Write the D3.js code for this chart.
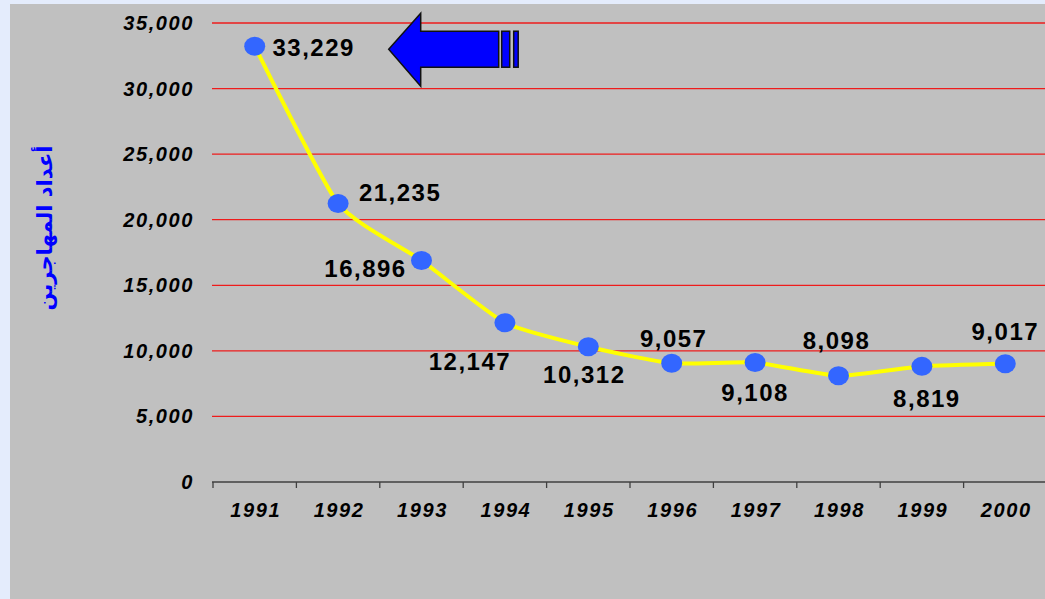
<!DOCTYPE html>
<html>
<head>
<meta charset="utf-8">
<script src="https://cdn.jsdelivr.net/npm/d3@7"></script>
<style>
  html, body { margin: 0; padding: 0; background: #e4ecfc; }
  svg { display: block; }
  .tick-label { font-family: "Liberation Sans", Arial, sans-serif; font-weight: bold; font-style: italic; font-size: 20px; letter-spacing: 1.6px; fill: #000; }
  .val-label { font-family: "Liberation Sans", Arial, sans-serif; font-weight: bold; font-size: 24px; letter-spacing: 1.5px; fill: #000; }
  .y-title { font-family: "DejaVu Sans", "Noto Sans", sans-serif; font-weight: bold; font-size: 21px; fill: #0000ff; }
</style>
</head>
<body>
<svg id="chart" width="1045" height="599"></svg>
<script>
 // data
 const years = ['1991', '1992', '1993', '1994', '1995', '1996', '1997', '1998', '1999', '2000'];
 const migrants = [33229, 21235, 16896, 12147, 10312, 9057, 9108, 8098, 8819, 9017];
 const yTicks = [0, 5000, 10000, 15000, 20000, 25000, 30000, 35000];
 const yTitle = 'أعداد المهاجرين';

 // label nudges [dx, dy] from each point (text centre)
 const labelOffsets = [
   [59, 1], [62, -12], [-56, 8], [-35, 38], [-4, 27],
   [2, -25], [0, 29], [-2, -36], [5, 32], [0, -33]
 ];

 const svg = d3.select('#chart');
 const W = 1045, H = 599;

 // grey plot panel
 svg.append('rect')
    .attr('x', 10).attr('y', 4)
    .attr('width', W - 10).attr('height', H - 4)
    .attr('fill', '#c0c0c0');

 const x = d3.scaleBand().domain(years).range([213, 1047]).padding(0);
 const y = d3.scaleLinear().domain([0, 35000]).range([482, 23]);
 const cx = d => x(d) + x.bandwidth() / 2;

 // grid lines
 svg.append('g')
    .selectAll('line')
    .data(yTicks.filter(t => t > 0))
    .join('line')
    .attr('x1', 212).attr('x2', W)
    .attr('y1', d => y(d)).attr('y2', d => y(d))
    .attr('stroke', '#ee1c1c')
    .attr('stroke-width', 1.3);

 // y tick labels
 const fmt = d3.format(',');
 svg.append('g')
    .selectAll('text')
    .data(yTicks)
    .join('text')
    .attr('class', 'tick-label')
    .attr('x', 194)
    .attr('y', d => y(d) + 7)
    .attr('text-anchor', 'end')
    .text(d => fmt(d));

 // x axis
 const xAxis = svg.append('g');
 xAxis.append('line')
      .attr('x1', 212).attr('x2', W)
      .attr('y1', y(0)).attr('y2', y(0))
      .attr('stroke', '#404040').attr('stroke-width', 1.5);
 xAxis.selectAll('.tk')
      .data(years)
      .join('line')
      .attr('class', 'tk')
      .attr('x1', d => x(d)).attr('x2', d => x(d))
      .attr('y1', y(0)).attr('y2', y(0) + 6)
      .attr('stroke', '#404040').attr('stroke-width', 1.3);
 xAxis.selectAll('text')
      .data(years)
      .join('text')
      .attr('class', 'tick-label')
      .attr('x', d => cx(d) + 1)
      .attr('y', y(0) + 35)
      .attr('text-anchor', 'middle')
      .text(d => d);

 // y title
 svg.append('text')
    .attr('class', 'y-title')
    .attr('transform', 'translate(52,' + 228 + ') rotate(-90)')
    .attr('text-anchor', 'middle')
    .text(yTitle);

 // smoothed line
 const pts = years.map((yr, i) => [cx(yr), y(migrants[i])]);
 svg.append('path')
    .attr('d', d3.line().curve(d3.curveCardinal.tension(0.45))(pts))
    .attr('fill', 'none')
    .attr('stroke', '#ffff00')
    .attr('stroke-width', 4);

 // markers
 svg.append('g')
    .selectAll('ellipse')
    .data(pts)
    .join('ellipse')
    .attr('cx', d => d[0]).attr('cy', d => d[1])
    .attr('rx', 10.5).attr('ry', 9.5)
    .attr('fill', '#3366ff');

 // value labels
 svg.append('g')
    .selectAll('text')
    .data(pts)
    .join('text')
    .attr('class', 'val-label')
    .attr('x', (d, i) => d[0] + labelOffsets[i][0])
    .attr('y', (d, i) => d[1] + labelOffsets[i][1] + 9)
    .attr('text-anchor', 'middle')
    .text((d, i) => fmt(migrants[i]));

 // arrow pointing at the first value
 const ax = pts[0][0] + 134, ay = pts[0][1] + 3;
 const arrow = svg.append('g')
    .attr('transform', 'translate(' + ax + ',' + ay + ')')
    .attr('fill', '#0000ff')
    .attr('stroke', '#111')
    .attr('stroke-width', 1.5);
 arrow.append('path')
      .attr('d', 'M0,0 L32,-36 L32,-18 L110,-18 L110,18 L32,18 L32,37 Z');
 arrow.append('rect').attr('x', 113).attr('y', -18).attr('width', 8).attr('height', 36);
 arrow.append('rect').attr('x', 125).attr('y', -18).attr('width', 4.5).attr('height', 36);
</script>
</body>
</html>
